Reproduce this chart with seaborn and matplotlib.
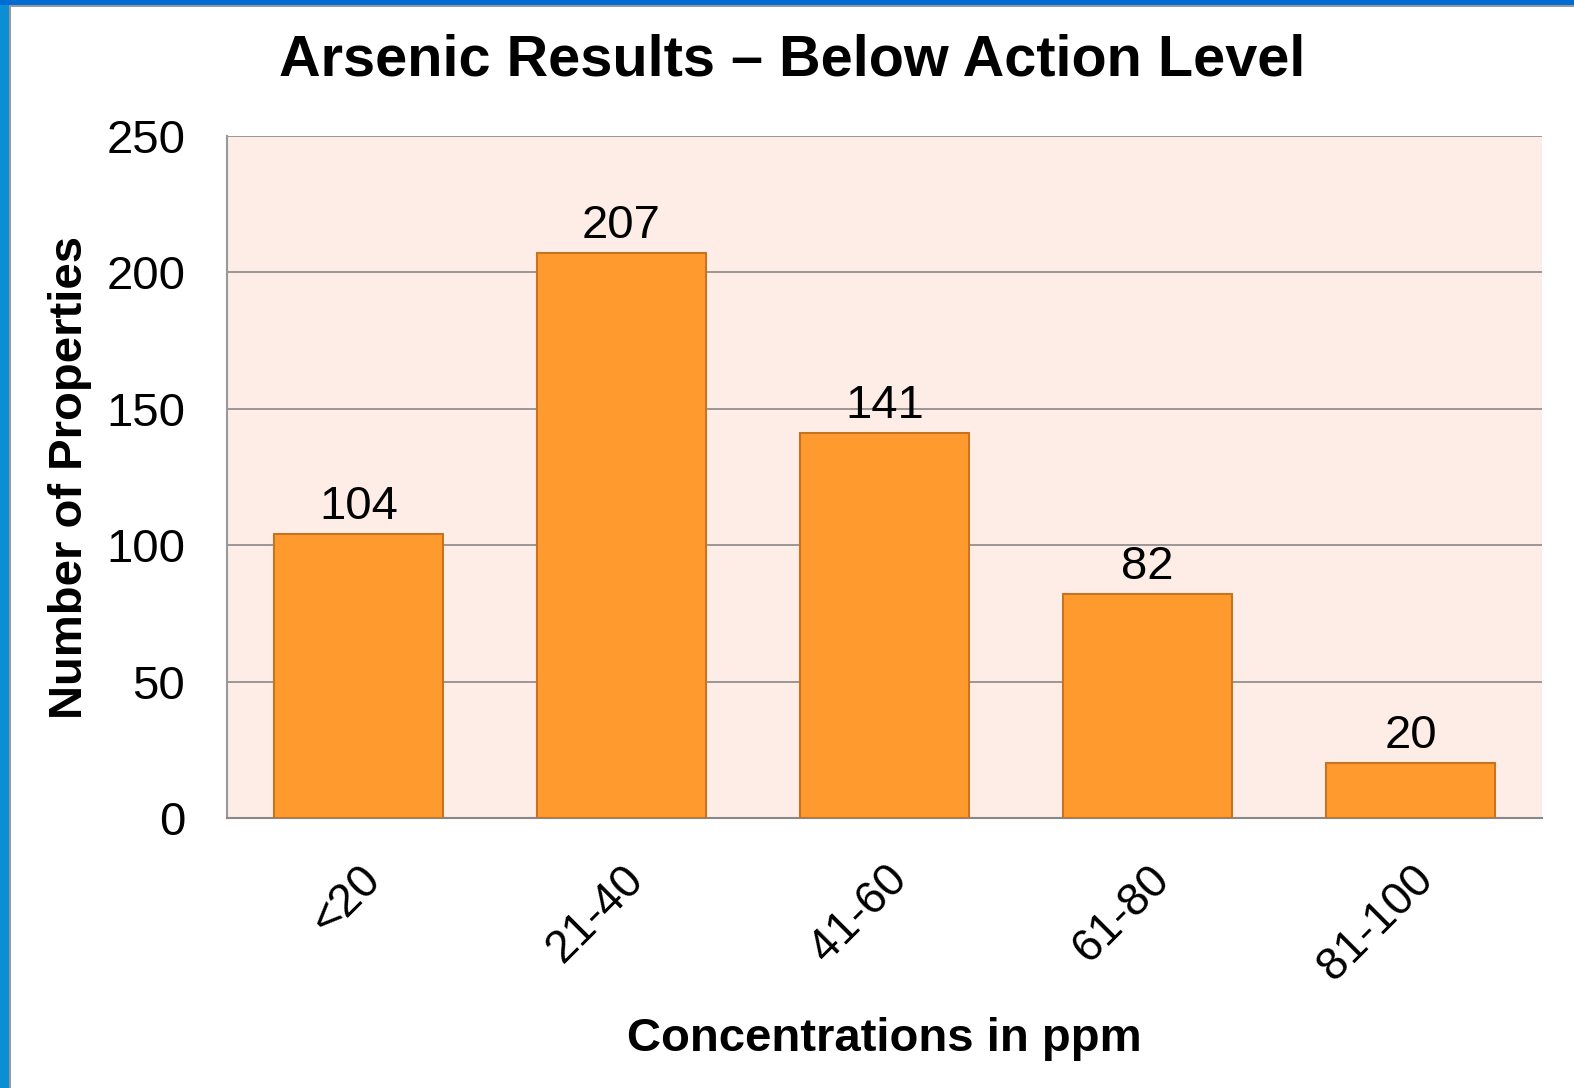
import matplotlib
matplotlib.use("Agg")
import matplotlib.pyplot as plt
import matplotlib.patches as mpatches
import seaborn as sns
import pandas as pd

# data
categories = ['<20', '21-40', '41-60', '61-80', '81-100']
counts = [104, 207, 141, 82, 20]

sns.set_theme(style="white")
plt.rcParams['font.family'] = ['Liberation Sans', 'DejaVu Sans']
plt.rcParams['text.color'] = 'black'
plt.rcParams['axes.labelcolor'] = 'black'
plt.rcParams['xtick.color'] = 'black'
plt.rcParams['ytick.color'] = 'black'

df = pd.DataFrame({'conc': categories, 'n': counts})

fig = plt.figure(figsize=(15.74, 10.88), dpi=100)
fig.patch.set_facecolor('white')
ax = fig.add_axes([227/1574, 1-818/1088, (1542-227)/1574, (818-136)/1088])

# blue frame of the slide
fig.patches.append(mpatches.Rectangle((0, 0), 9/1574, 1, transform=fig.transFigure,
                                      facecolor='#0A8FD4', edgecolor='none', zorder=0))
fig.patches.append(mpatches.Rectangle((0, 1-5/1088), 1, 5/1088, transform=fig.transFigure,
                                      facecolor='#006BD3', edgecolor='none', zorder=0))
fig.patches.append(mpatches.Rectangle((9/1574, 0), 2/1574, 1-5/1088, transform=fig.transFigure,
                                      facecolor='#999999', edgecolor='none', zorder=0))
fig.patches.append(mpatches.Rectangle((9/1574, 1-7/1088), 1, 2/1088, transform=fig.transFigure,
                                      facecolor='#999999', edgecolor='none', zorder=0))

sns.barplot(data=df, x='conc', y='n', color='#FF9A2E', edgecolor='#C8731F',
            linewidth=1.5, width=0.646, saturation=1, ax=ax, zorder=3)

ax.set_facecolor('#FDEDE6')
ax.set_ylim(0, 250)
ax.set_xlim(-0.5, 4.5)
ax.set_yticks([0, 50, 100, 150, 200, 250])
ax.yaxis.grid(True, color='#888888', linewidth=1.2)
ax.set_axisbelow(True)
for s in ['top', 'right']:
    ax.spines[s].set_visible(False)
ax.spines['left'].set_color('#999999')
ax.spines['bottom'].set_color('#888888')
ax.spines['left'].set_linewidth(1.5)
ax.spines['bottom'].set_linewidth(1.5)

for c in ax.containers:
    ax.bar_label(c, fontsize=34, padding=4)

ax.tick_params(axis='y', labelsize=34, pad=30, length=0)
ax.tick_params(axis='x', labelsize=33, length=0, pad=28)
plt.setp(ax.get_xticklabels(), rotation=45, ha='right', rotation_mode='anchor')

ax.set_xlabel('Concentrations in ppm', fontsize=34, fontweight='bold', labelpad=20)
ax.set_ylabel('Number of Properties', fontsize=34, fontweight='bold', labelpad=10)
fig.text(0.503, 1-60/1088, 'Arsenic Results \u2013 Below Action Level', fontsize=41.5,
         fontweight='bold', ha='center', va='center')

fig.savefig('out.png', dpi=100)
